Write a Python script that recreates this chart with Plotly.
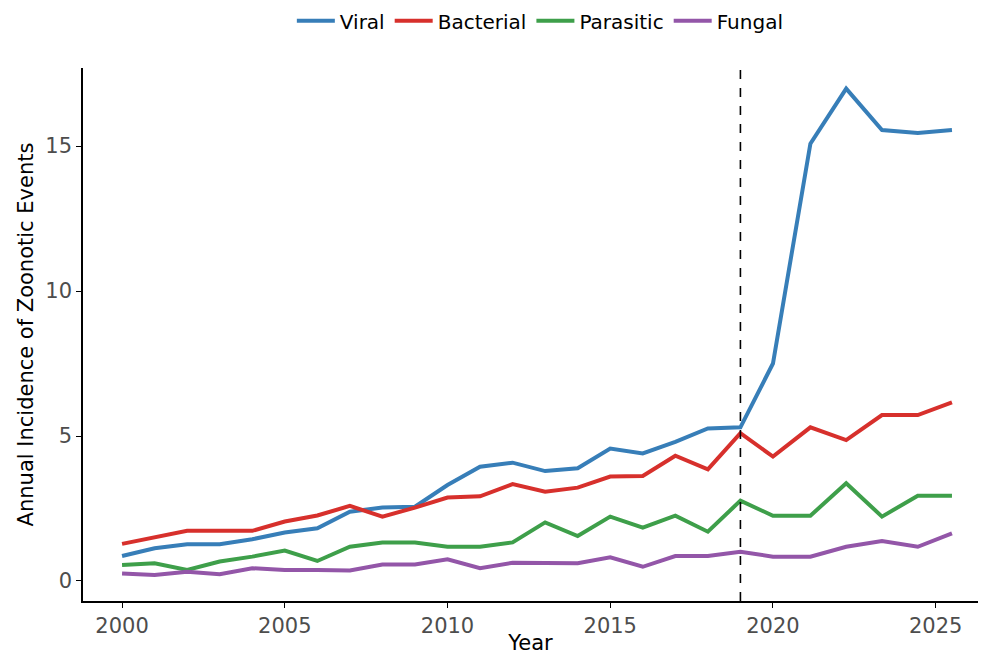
import plotly.graph_objects as go

# Observation years (annual through 2019, then the later sampling points)
years = [2000, 2001, 2002, 2003, 2004, 2005, 2006, 2007, 2008, 2009,
         2010, 2011, 2012, 2013, 2014, 2015, 2016, 2017, 2018, 2019,
         2020, 2021.15, 2022.25, 2023.35, 2024.45, 2025.5]

viral = [0.86, 1.13, 1.27, 1.27, 1.44, 1.67, 1.82, 2.39, 2.53, 2.56,
         3.31, 3.94, 4.08, 3.79, 3.89, 4.57, 4.40, 4.80, 5.26, 5.30,
         7.50, 15.08, 16.98, 15.55, 15.45, 15.55]
bacterial = [1.28, 1.50, 1.73, 1.73, 1.73, 2.05, 2.26, 2.59, 2.22, 2.53,
             2.88, 2.92, 3.34, 3.08, 3.22, 3.60, 3.62, 4.32, 3.85, 5.10,
             4.29, 5.30, 4.86, 5.72, 5.72, 6.16]
parasitic = [0.55, 0.61, 0.38, 0.67, 0.84, 1.05, 0.69, 1.18, 1.33, 1.33,
             1.18, 1.18, 1.33, 2.02, 1.55, 2.22, 1.84, 2.25, 1.70, 2.77,
             2.25, 2.25, 3.37, 2.22, 2.94, 2.94]
fungal = [0.26, 0.21, 0.32, 0.23, 0.44, 0.38, 0.38, 0.36, 0.57, 0.57,
          0.75, 0.44, 0.63, 0.61, 0.61, 0.82, 0.49, 0.86, 0.86, 1.01,
          0.84, 0.84, 1.18, 1.38, 1.18, 1.64]

series_names = ["Viral", "Bacterial", "Parasitic", "Fungal"]
series_values = [viral, bacterial, parasitic, fungal]
series_colors = ["#377EB8", "#D7302C", "#3E9F4A", "#9356A8"]

x_ticks = [2000, 2005, 2010, 2015, 2020, 2025]
y_ticks = [0, 5, 10, 15]
event_year = 2019

FONT = "DejaVu Sans, Liberation Sans, sans-serif"

fig = go.Figure()
for name, vals, col in zip(series_names, series_values, series_colors):
    fig.add_trace(go.Scatter(
        x=years, y=vals, mode="lines", name=name,
        line=dict(color=col, width=4),
    ))

fig.add_vline(x=event_year, line=dict(color="black", width=1.6, dash="dash"))

axis_font = dict(family=FONT, size=21, color="#4D4D4D")
title_font = dict(family=FONT, size=21, color="black")

fig.update_xaxes(
    range=[1998.8, 2026.3], tickvals=x_ticks, ticks="outside", ticklen=5,
    tickwidth=1.3, tickcolor="black", showline=True, linecolor="black",
    linewidth=1.6, showgrid=False, zeroline=False, tickfont=axis_font,
    title=dict(text="Year", font=title_font, standoff=2), automargin=False,
)
fig.update_yaxes(
    range=[-0.69, 17.69], tickvals=y_ticks, ticks="outside", ticklen=5,
    tickwidth=1.3, tickcolor="black", showline=True, linecolor="black",
    linewidth=1.6, showgrid=False, zeroline=False, tickfont=axis_font,
    title=dict(text="Annual Incidence of Zoonotic Events", font=title_font, standoff=6),
    automargin=False,
)

fig.update_layout(
    width=982, height=655,
    margin=dict(l=83, r=4, t=68, b=54),
    plot_bgcolor="white", paper_bgcolor="white",
    legend=dict(
        orientation="h", x=0.511, xanchor="center", y=0.998, yanchor="top",
        yref="container", font=dict(family=FONT, size=20, color="black"),
        itemwidth=38, bgcolor="rgba(0,0,0,0)",
    ),
)

fig.write_html("out.html")
